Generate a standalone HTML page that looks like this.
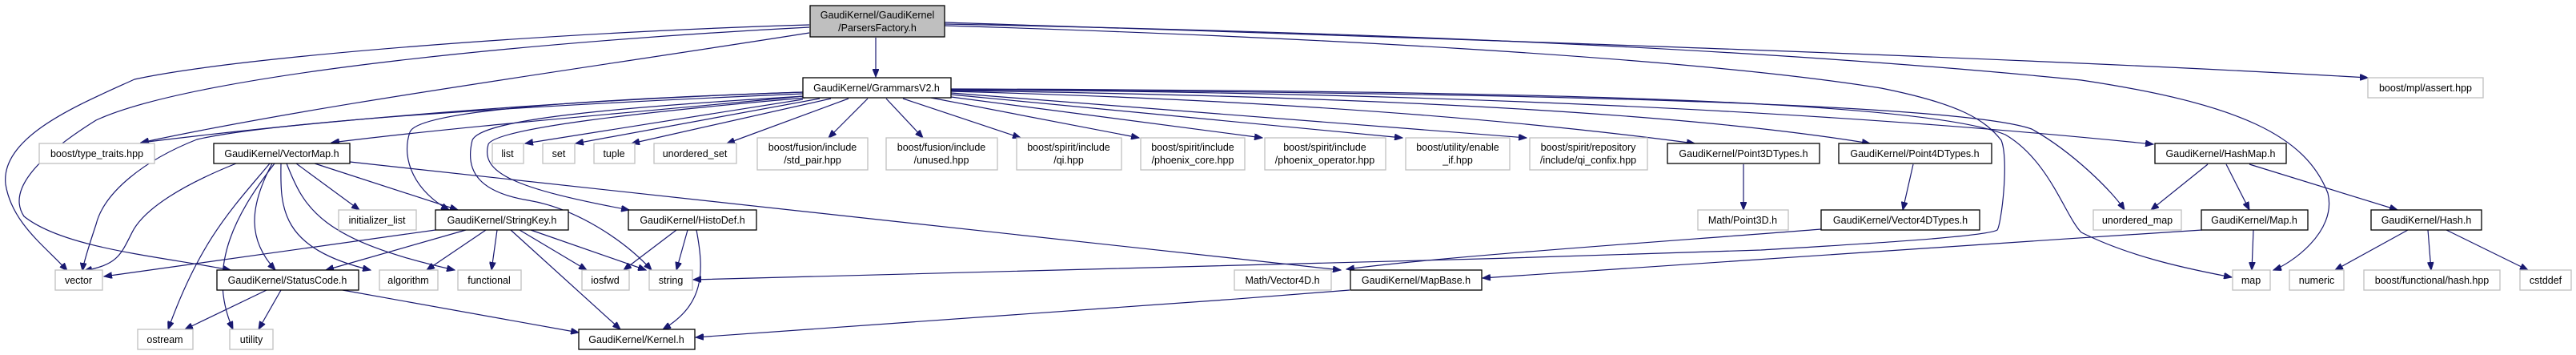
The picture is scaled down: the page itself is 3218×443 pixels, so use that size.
<!DOCTYPE html>
<html><head><meta charset="utf-8"><style>
html,body{margin:0;padding:0;background:#fff;}
svg{display:block;}
text{font-family:"Liberation Sans",Arial,sans-serif;font-size:12.5px;fill:#000;text-anchor:middle;}
.b{fill:#fff;stroke:#000;stroke-width:1.3;}
.g{fill:#fff;stroke:#bfbfbf;stroke-width:1.3;}
.e{fill:none;stroke:#191970;stroke-width:1.2;}
</style></head><body>
<svg width="3218" height="443" viewBox="0 0 3218 443" xmlns="http://www.w3.org/2000/svg">
<defs><marker id="a" markerWidth="11" markerHeight="8" refX="10" refY="4" orient="auto" markerUnits="userSpaceOnUse"><path d="M0,0 L10,4 L0,8 z" fill="#191970" stroke="#191970"/></marker></defs>
<g class="e" marker-end="url(#a)">
<!-- ParsersFactory -->
<path d="M1094,47 L1094,96"/>
<path d="M1011,31 C700,40 300,70 168,99 C100,130 0,170 7,230 C15,280 60,310 84,338"/>
<path d="M1011,34 C700,50 250,90 120,150 C40,200 10,240 30,270 C80,310 200,320 288,337"/>
<path d="M1011,41 C700,90 400,130 176,178"/>
<path d="M1180,28 C1700,45 2500,70 2958,97"/>
<path d="M1180,30 C1700,40 2200,60 2600,100 C2800,130 2880,170 2908,241 C2920,290 2860,330 2840,337"/>
<path d="M1180,32 C1600,45 2100,70 2350,110 C2450,130 2480,150 2500,175 C2510,200 2500,280 2495,287 C2480,296 2300,306 2200,312 C1700,330 1100,340 866,349"/>
<!-- GrammarsV2 -->
<path d="M1003,117 C700,130 350,150 246,174 C180,200 130,240 120,280 C110,310 104,330 103,338"/>
<path d="M1003,115 C700,125 400,150 176,178"/>
<path d="M1003,120 C800,140 600,155 414,178"/>
<path d="M1003,115 C700,125 520,140 512,165 C500,200 520,240 561,262"/>
<path d="M1006,122 C800,140 620,160 610,180 C600,215 640,235 786,262"/>
<path d="M1006,120 C750,135 600,150 590,175 C580,215 600,240 660,250 C720,260 780,300 814,337"/>
<path d="M1003,124 L656,179"/>
<path d="M1024,123 L719,179"/>
<path d="M1038,123 L789,179"/>
<path d="M1060,123 L908,179"/>
<path d="M1084,123 L1035,172"/>
<path d="M1107,123 L1153,172"/>
<path d="M1128,123 L1275,172"/>
<path d="M1163,122 L1423,172"/>
<path d="M1188,121 L1577,172"/>
<path d="M1188,118 L1752,172"/>
<path d="M1188,116 L1907,172"/>
<path d="M1188,114 C1600,125 1900,150 2117,179"/>
<path d="M1188,113 C1700,120 2100,140 2336,179"/>
<path d="M1188,112 C1800,115 2300,140 2690,180"/>
<path d="M1188,112 C1900,115 2450,130 2538,161 C2590,190 2640,240 2654,262"/>
<path d="M1188,111 C1900,113 2400,125 2505,168 C2560,200 2580,270 2600,290 C2660,320 2730,335 2788,346"/>
<!-- Point types -->
<path d="M2178,205 L2178,262"/>
<path d="M2390,205 L2377,262"/>
<!-- HashMap -->
<path d="M2758,205 L2687,262"/>
<path d="M2781,205 L2810,262"/>
<path d="M2810,205 L2995,262"/>
<path d="M2815,287 L2813,337"/>
<path d="M3008,287 L2917,337"/>
<path d="M3033,287 L3037,337"/>
<path d="M3056,287 L3158,337"/>
<!-- MapBase -->
<path d="M2275,286 C2100,300 1800,320 1682,336"/>
<path d="M2751,287 C2400,310 2000,335 1852,347"/>
<path d="M1686,362 C1400,385 1100,405 869,421"/>
<!-- VectorMap -->
<path d="M295,204 C230,230 180,260 165,290 C150,320 146,330 105,338"/>
<path d="M337,204 C290,260 250,300 210,411"/>
<path d="M343,204 C300,260 255,330 291,411"/>
<path d="M340,204 C310,260 310,300 344,337"/>
<path d="M351,204 C350,260 350,310 463,337"/>
<path d="M358,204 C380,260 400,300 568,337"/>
<path d="M370,204 L449,262"/>
<path d="M393,204 L572,262"/>
<path d="M437,202 L1675,337"/>
<!-- StringKey -->
<path d="M544,287 L130,345"/>
<path d="M582,287 L407,337"/>
<path d="M607,287 L533,337"/>
<path d="M621,287 L614,337"/>
<path d="M649,287 L733,337"/>
<path d="M663,287 L807,337"/>
<path d="M638,287 L775,411"/>
<!-- HistoDef -->
<path d="M845,287 L779,337"/>
<path d="M859,287 L845,337"/>
<path d="M870,287 C880,340 880,380 828,411"/>
<!-- StatusCode -->
<path d="M333,362 L231,411"/>
<path d="M351,362 L323,411"/>
<path d="M428,362 L723,415"/>
</g>
<!-- nodes -->
<rect x="1012" y="7" width="168" height="39" fill="#bfbfbf" stroke="#000" stroke-width="1.3"/>
<text x="1096" y="23">GaudiKernel/GaudiKernel</text><text x="1096" y="39">/ParsersFactory.h</text>
<rect class="b" x="1003" y="97" width="185" height="25"/><text x="1095" y="114">GaudiKernel/GrammarsV2.h</text>
<rect class="g" x="2958" y="97" width="144" height="25"/><text x="3030" y="114">boost/mpl/assert.hpp</text>
<rect class="g" x="49" y="179" width="144" height="25"/><text x="121" y="196">boost/type_traits.hpp</text>
<rect class="b" x="267" y="179" width="170" height="25"/><text x="352" y="196">GaudiKernel/VectorMap.h</text>
<rect class="g" x="615" y="179" width="39" height="25"/><text x="634" y="196">list</text>
<rect class="g" x="678" y="179" width="40" height="25"/><text x="698" y="196">set</text>
<rect class="g" x="742" y="179" width="51" height="25"/><text x="767" y="196">tuple</text>
<rect class="g" x="817" y="179" width="103" height="25"/><text x="868" y="196">unordered_set</text>
<rect class="g" x="946" y="172" width="138" height="40"/><text x="1015" y="188">boost/fusion/include</text><text x="1015" y="204">/std_pair.hpp</text>
<rect class="g" x="1107" y="172" width="139" height="40"/><text x="1176" y="188">boost/fusion/include</text><text x="1176" y="204">/unused.hpp</text>
<rect class="g" x="1270" y="172" width="131" height="40"/><text x="1335" y="188">boost/spirit/include</text><text x="1335" y="204">/qi.hpp</text>
<rect class="g" x="1425" y="172" width="130" height="40"/><text x="1490" y="188">boost/spirit/include</text><text x="1490" y="204">/phoenix_core.hpp</text>
<rect class="g" x="1580" y="172" width="151" height="40"/><text x="1655" y="188">boost/spirit/include</text><text x="1655" y="204">/phoenix_operator.hpp</text>
<rect class="g" x="1756" y="172" width="130" height="40"/><text x="1821" y="188">boost/utility/enable</text><text x="1821" y="204">_if.hpp</text>
<rect class="g" x="1911" y="172" width="147" height="40"/><text x="1984" y="188">boost/spirit/repository</text><text x="1984" y="204">/include/qi_confix.hpp</text>
<rect class="b" x="2083" y="179" width="190" height="25"/><text x="2178" y="196">GaudiKernel/Point3DTypes.h</text>
<rect class="b" x="2297" y="179" width="191" height="25"/><text x="2392" y="196">GaudiKernel/Point4DTypes.h</text>
<rect class="b" x="2692" y="179" width="164" height="25"/><text x="2774" y="196">GaudiKernel/HashMap.h</text>
<rect class="g" x="423" y="262" width="97" height="25"/><text x="471" y="279">initializer_list</text>
<rect class="b" x="544" y="262" width="166" height="25"/><text x="627" y="279">GaudiKernel/StringKey.h</text>
<rect class="b" x="785" y="262" width="160" height="25"/><text x="865" y="279">GaudiKernel/HistoDef.h</text>
<rect class="g" x="2121" y="262" width="113" height="25"/><text x="2177" y="279">Math/Point3D.h</text>
<rect class="b" x="2275" y="262" width="198" height="25"/><text x="2374" y="279">GaudiKernel/Vector4DTypes.h</text>
<rect class="g" x="2615" y="262" width="110" height="25"/><text x="2670" y="279">unordered_map</text>
<rect class="b" x="2750" y="262" width="133" height="25"/><text x="2816" y="279">GaudiKernel/Map.h</text>
<rect class="b" x="2962" y="262" width="138" height="25"/><text x="3031" y="279">GaudiKernel/Hash.h</text>
<rect class="g" x="69" y="337" width="59" height="25"/><text x="98" y="354">vector</text>
<rect class="b" x="271" y="337" width="177" height="25"/><text x="359" y="354">GaudiKernel/StatusCode.h</text>
<rect class="g" x="474" y="337" width="73" height="25"/><text x="510" y="354">algorithm</text>
<rect class="g" x="572" y="337" width="79" height="25"/><text x="611" y="354">functional</text>
<rect class="g" x="727" y="337" width="59" height="25"/><text x="756" y="354">iosfwd</text>
<rect class="g" x="811" y="337" width="54" height="25"/><text x="838" y="354">string</text>
<rect class="g" x="1542" y="337" width="121" height="25"/><text x="1602" y="354">Math/Vector4D.h</text>
<rect class="b" x="1687" y="337" width="164" height="25"/><text x="1769" y="354">GaudiKernel/MapBase.h</text>
<rect class="g" x="2789" y="337" width="47" height="25"/><text x="2812" y="354">map</text>
<rect class="g" x="2860" y="337" width="68" height="25"/><text x="2894" y="354">numeric</text>
<rect class="g" x="2953" y="337" width="170" height="25"/><text x="3038" y="354">boost/functional/hash.hpp</text>
<rect class="g" x="3148" y="337" width="64" height="25"/><text x="3180" y="354">cstddef</text>
<rect class="g" x="172" y="411" width="69" height="25"/><text x="206" y="428">ostream</text>
<rect class="g" x="287" y="411" width="54" height="25"/><text x="314" y="428">utility</text>
<rect class="b" x="723" y="411" width="145" height="25"/><text x="795" y="428">GaudiKernel/Kernel.h</text>
</svg>
</body></html>
